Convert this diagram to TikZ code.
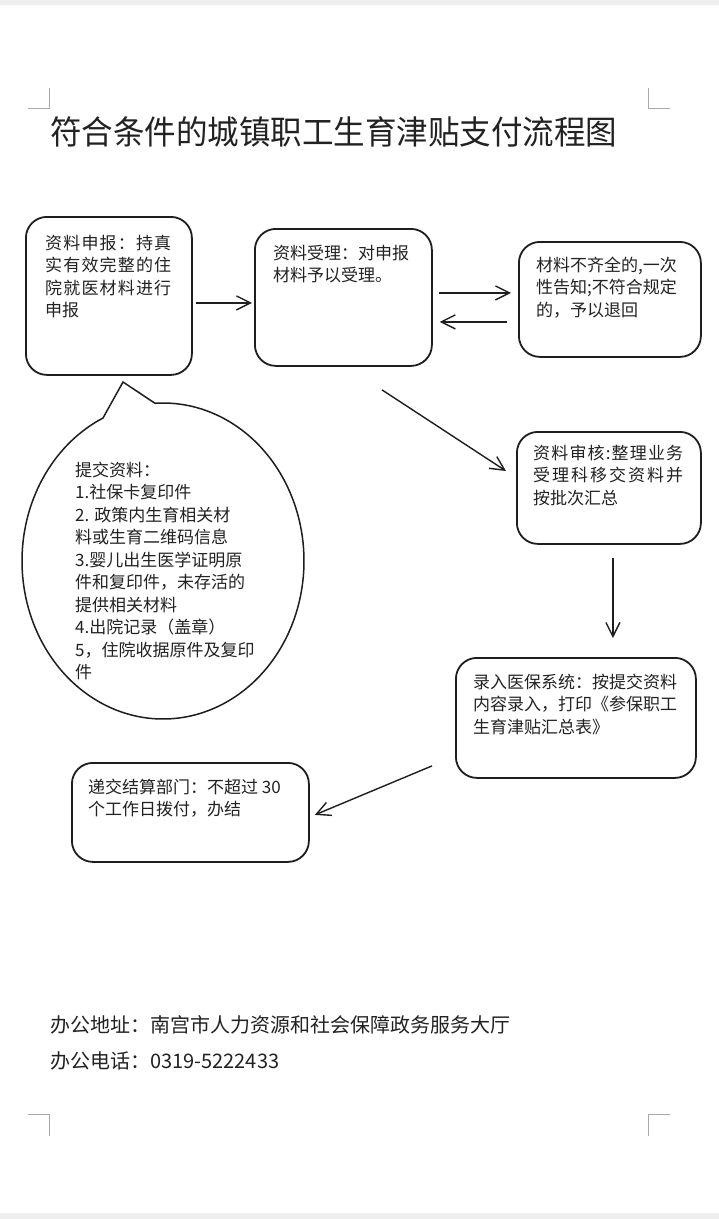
\documentclass[tikz,border=0pt]{standalone}
\usepackage{fontspec}
\setmainfont{Noto Sans CJK SC}
\usetikzlibrary{arrows.meta,calc}
\definecolor{linec}{HTML}{1E1E1E}
\definecolor{textc}{HTML}{222222}
\definecolor{markc}{HTML}{A8A8A8}
\definecolor{bandc}{HTML}{EEEEEE}
\def\spr#1#2{#1\ifx\relax#2\else\hfill\expandafter\spr\expandafter#2\fi}
\newcommand{\jline}[2]{\hbox to #1pt{\spr #2\relax}}
\begin{document}
\begin{tikzpicture}[x=1pt,y=-1pt,
  box/.style={draw=linec, line width=1.8pt, rounded corners=21pt, inner sep=0pt, anchor=north west},
  txt/.style={anchor=north west, align=left, inner sep=0pt, font=\fontsize{17}{22.5}\selectfont, text=textc},
  arr/.style={draw=linec, line width=1.4pt, -{Straight Barb[length=14pt,width=14pt,line width=1.4pt]}},
  cornermark/.style={draw=markc, line width=1pt}]
\useasboundingbox (0,0) rectangle (719,1219);
\fill[white] (0,0) rectangle (719,1219);
\fill[bandc] (0,0) rectangle (719,5);
\fill[bandc] (0,1213) rectangle (719,1219);
% corner marks
\draw[cornermark] (28,108) -- (49,108) -- (49,88);
\draw[cornermark] (648,88) -- (648,108) -- (670,108);
\draw[cornermark] (28,1114) -- (49,1114) -- (49,1136);
\draw[cornermark] (670,1114) -- (648,1114) -- (648,1136);
% title
\node[anchor=west, inner sep=0pt, text=textc, font=\fontsize{33}{36}\selectfont] (title) at (50,132) {\scalebox{0.955}[1]{符合条件的城镇职工生育津贴支付流程图}};
% boxes
\node[box, minimum width=166pt, minimum height=158pt] (b1) at (25,216) {};
\node[box, minimum width=177pt, minimum height=137pt] (b2) at (254,228) {};
\node[box, minimum width=182pt, minimum height=115pt] (b3) at (518,241) {};
\node[box, minimum width=184pt, minimum height=112pt] (b4) at (516,431) {};
\node[box, minimum width=240pt, minimum height=120pt] (b5) at (455,657) {};
\node[box, minimum width=237pt, minimum height=99pt] (b6) at (71,762) {};
% box texts
\node[txt] (t1) at (45,234.5) {\jline{126}{资料申报：持真}\\ \jline{126}{实有效完整的住}\\ \jline{126}{院就医材料进行}\\ 申报};
\node[txt] (t2) at (273,244.5) {资料受理：对申报\\ 材料予以受理。};
\node[txt] (t3) at (536,256.5) {材料不齐全的,一次\\ 性告知;不符合规定\\ 的，予以退回};
\node[txt] (t4) at (533,444.5) {\jline{150}{资料审核:整理业务}\\ \jline{150}{受理科移交资料并}\\ 按批次汇总};
\node[txt] (t5) at (473,673.5) {录入医保系统：按提交资料\\ 内容录入，打印《参保职工\\ 生育津贴汇总表》};
\node[txt] (t6) at (88,778.5) {递交结算部门：不超过 30\\ 个工作日拨付，办结};
% callout
\draw[draw=linec, line width=1.5pt, fill=white]
  plot[domain=-93.25:244.8, samples=240, smooth] ({163+141*cos(\x)}, {561+158*sin(\x)})
  -- (123,382) -- cycle;
\node[txt] (t7) at (75,461.5) {提交资料：\\ 1.社保卡复印件\\ 2. 政策内生育相关材\\ 料或生育二维码信息\\ 3.婴儿出生医学证明原\\ 件和复印件，未存活的\\ 提供相关材料\\ 4.出院记录（盖章）\\ 5，住院收据原件及复印\\ 件};
% arrows
\draw[arr] ($(b1.east)+(3,7)$) -- ($(b2.west)+(-2,5.5)$);
\draw[arr] ($(b2.east)+(6,-4.5)$) -- ($(b3.west)+(-7,-6.5)$);
\draw[arr] ($(b3.west)+(-11,22.5)$) -- ($(b2.east)+(7,24.5)$);
\draw[arr] ($(b2.south)+(38.5,23)$) -- ($(b4.north west)+(-10,40)$);
\draw[arr] ($(b4.south)+(4,13)$) -- ($(b5.north)+(37,-19)$);
\draw[arr] ($(b5.west)+(-23,48)$) -- ($(b6.east)+(5,2.5)$);
% footer
\node[anchor=west, inner sep=0pt, text=textc, font=\fontsize{20}{24}\selectfont] (addr) at (50,1025) {办公地址：南宫市人力资源和社会保障政务服务大厅};
\node[anchor=west, inner sep=0pt, text=textc, font=\fontsize{20}{24}\selectfont] (tel) at (50,1061) {办公电话：0319-5222433};
\end{tikzpicture}
\end{document}
